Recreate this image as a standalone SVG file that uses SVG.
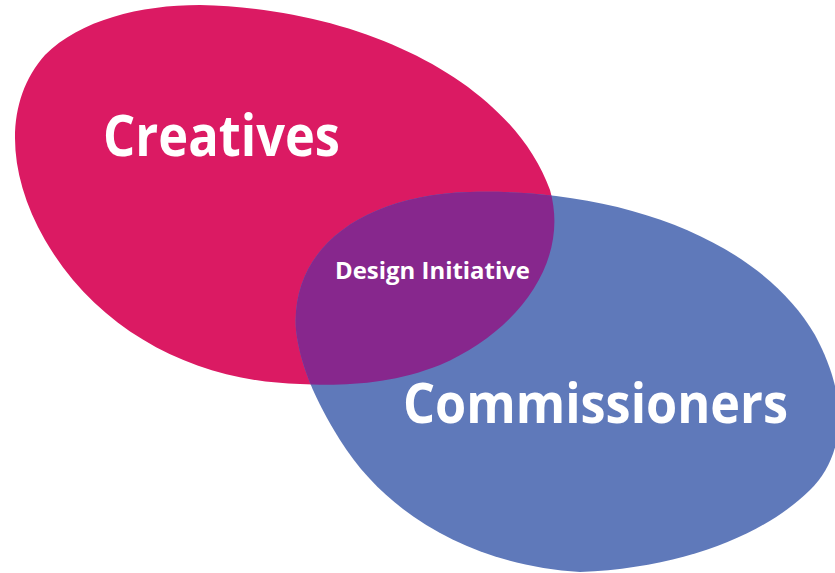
<svg xmlns="http://www.w3.org/2000/svg" width="835" height="573" viewBox="0 0 835 573">
<style>
.lbl{font-family:"Open Sans","Liberation Sans",sans-serif;font-weight:700;fill:#ffffff}
</style>
<defs>
<path id="pinkShape" d="M 200,5 C 360,8 510,80 550,190 C 570,260 520,330 440,365 C 390,385 340,386 300,384 C 200,382 100,335 45,240 C 5,170 5,100 45,55 C 80,20 140,5 200,5 Z"/>
<path id="blueShape" d="M 296,330 C 290,250 360,195 470,192 C 620,188 760,240 815,335 C 850,400 845,455 810,490 C 770,530 690,568 580,572 C 480,566 390,520 340,440 C 315,400 300,365 296,330 Z"/>
<clipPath id="pinkClip"><use href="#pinkShape"/></clipPath>
</defs>
<rect width="835" height="573" fill="#ffffff"/>
<g id="creatives">
<use href="#pinkShape" fill="#DB1A63"/>
<text class="lbl" x="103" y="156" font-size="57" textLength="237" lengthAdjust="spacingAndGlyphs">Creatives</text>
</g>
<g id="commissioners">
<use href="#blueShape" fill="#5F79BA"/>
<text class="lbl" x="403" y="423" font-size="55" textLength="385" lengthAdjust="spacingAndGlyphs">Commissioners</text>
</g>
<g id="design-initiative">
<use href="#blueShape" fill="#87278D" clip-path="url(#pinkClip)"/>
<text class="lbl" x="335" y="279" font-size="23" textLength="195" lengthAdjust="spacingAndGlyphs">Design Initiative</text>
</g>
<g id="connectors"/>
</svg>
